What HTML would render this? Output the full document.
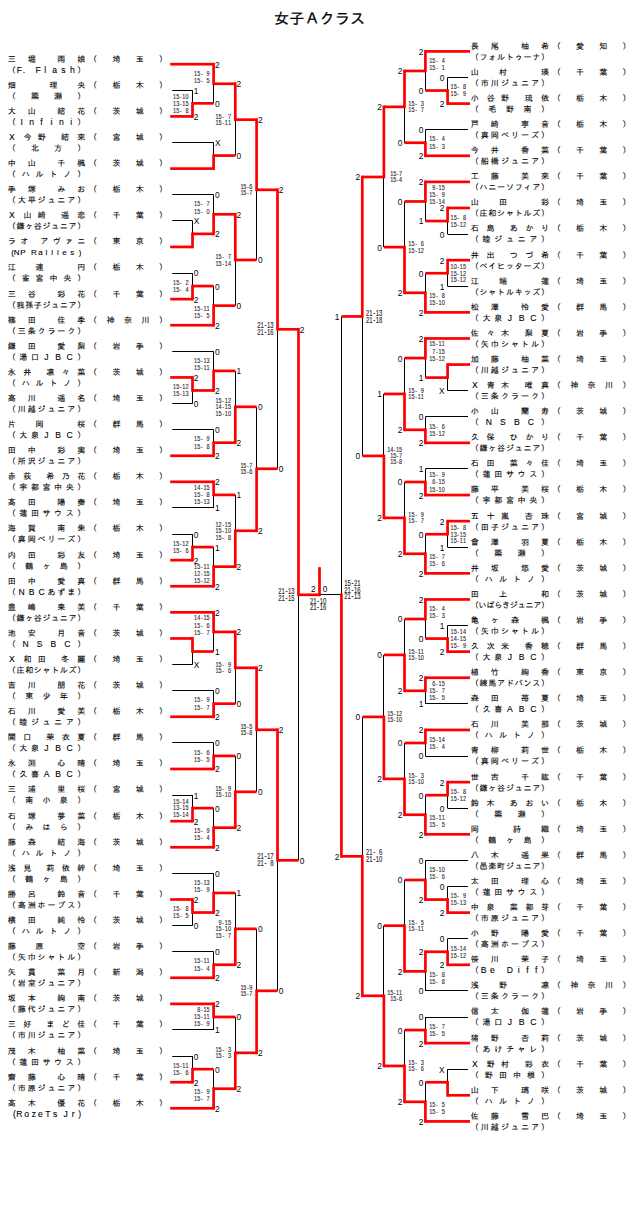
<!DOCTYPE html>
<html lang="ja"><head><meta charset="utf-8"><title>女子Ａクラス</title>
<style>
html,body{margin:0;padding:0;background:#fff}
body{width:640px;height:1205px;overflow:hidden;position:relative}
svg{position:absolute;left:0;top:0;display:block}
text{font-family:'Liberation Sans','IPAGothic',sans-serif;fill:#1a1a1a}
.n{font-size:8px;text-anchor:middle;fill:#000;stroke:#000;stroke-width:.1px}
.lb{font-size:8.4px;fill:#05050f;font-family:'Liberation Sans',sans-serif}
.e{text-anchor:end}
.sc{font-size:7.7px;text-anchor:middle;fill:#2a2428;stroke:#2a2428;stroke-width:.12px;font-family:'Liberation Sans',sans-serif}
.sb{font-size:8.3px}
.a{font-size:8.6px}
.ttl{font-size:15.2px;text-anchor:middle;fill:#000;stroke:#000;stroke-width:.25px}
.bk rect{fill:#000}
.rd rect{fill:#f00}
</style></head><body>
<svg width="640" height="1205" viewBox="0 0 640 1205">
<text class="ttl" x="319.6" y="24">女子Ａクラス</text>
<g class="bk" shape-rendering="auto">
<rect x="172.2" y="90" width="20.3" height="1"/>
<rect x="192" y="90.3" width="1" height="13.05"/>
<rect x="213" y="83.78" width="1" height="19.58"/>
<rect x="172.2" y="142" width="41.4" height="1"/>
<rect x="213" y="142.51" width="1" height="13.05"/>
<rect x="235" y="119.67" width="1" height="35.89"/>
<rect x="172.2" y="220" width="20.3" height="1"/>
<rect x="192" y="220.81" width="1" height="13.05"/>
<rect x="172.2" y="194" width="41.4" height="1"/>
<rect x="213" y="194.71" width="1" height="19.58"/>
<rect x="172.2" y="273" width="20.3" height="1"/>
<rect x="192" y="273.02" width="1" height="13.05"/>
<rect x="213" y="286.07" width="1" height="19.58"/>
<rect x="235" y="259.97" width="1" height="45.68"/>
<rect x="256" y="189.82" width="1" height="70.15"/>
<rect x="172.2" y="403" width="20.3" height="1"/>
<rect x="192" y="390.48" width="1" height="13.05"/>
<rect x="172.2" y="351" width="41.4" height="1"/>
<rect x="213" y="351.33" width="1" height="19.58"/>
<rect x="172.2" y="429" width="41.4" height="1"/>
<rect x="213" y="429.63" width="1" height="13.05"/>
<rect x="235" y="370.9" width="1" height="35.89"/>
<rect x="172.2" y="507" width="41.4" height="1"/>
<rect x="213" y="494.89" width="1" height="13.05"/>
<rect x="172.2" y="534" width="20.3" height="1"/>
<rect x="192" y="534.04" width="1" height="13.05"/>
<rect x="213" y="547.1" width="1" height="19.58"/>
<rect x="235" y="494.89" width="1" height="35.89"/>
<rect x="256" y="406.8" width="1" height="61.99"/>
<rect x="277" y="329.3" width="1" height="139.49"/>
<rect x="172.2" y="664" width="20.3" height="1"/>
<rect x="192" y="651.51" width="1" height="13.05"/>
<rect x="213" y="631.93" width="1" height="19.58"/>
<rect x="172.2" y="690" width="41.4" height="1"/>
<rect x="213" y="690.66" width="1" height="13.05"/>
<rect x="235" y="667.82" width="1" height="35.89"/>
<rect x="172.2" y="742" width="41.4" height="1"/>
<rect x="213" y="742.87" width="1" height="13.05"/>
<rect x="172.2" y="795" width="20.3" height="1"/>
<rect x="192" y="795.07" width="1" height="13.05"/>
<rect x="213" y="808.12" width="1" height="19.58"/>
<rect x="235" y="755.92" width="1" height="35.89"/>
<rect x="256" y="729.81" width="1" height="61.99"/>
<rect x="172.2" y="925" width="20.3" height="1"/>
<rect x="192" y="912.53" width="1" height="13.05"/>
<rect x="172.2" y="873" width="41.4" height="1"/>
<rect x="213" y="873.38" width="1" height="19.58"/>
<rect x="172.2" y="951" width="41.4" height="1"/>
<rect x="213" y="951.69" width="1" height="13.05"/>
<rect x="235" y="892.95" width="1" height="35.89"/>
<rect x="172.2" y="1029" width="41.4" height="1"/>
<rect x="213" y="1016.94" width="1" height="13.05"/>
<rect x="172.2" y="1056" width="20.3" height="1"/>
<rect x="192" y="1056.1" width="1" height="13.05"/>
<rect x="213" y="1069.15" width="1" height="19.58"/>
<rect x="235" y="1016.94" width="1" height="35.89"/>
<rect x="256" y="928.85" width="1" height="61.99"/>
<rect x="277" y="860.33" width="1" height="130.51"/>
<rect x="298" y="594.81" width="1" height="265.51"/>
<rect x="447.6" y="77" width="20.4" height="1"/>
<rect x="447" y="77.5" width="1" height="13.05"/>
<rect x="425" y="70.97" width="1" height="19.57"/>
<rect x="425.4" y="129" width="42.6" height="1"/>
<rect x="425" y="129.69" width="1" height="13.05"/>
<rect x="404" y="106.86" width="1" height="35.88"/>
<rect x="447.6" y="234" width="20.4" height="1"/>
<rect x="447" y="221.03" width="1" height="13.05"/>
<rect x="425" y="201.46" width="1" height="19.57"/>
<rect x="447.6" y="286" width="20.4" height="1"/>
<rect x="447" y="273.23" width="1" height="13.05"/>
<rect x="425" y="273.23" width="1" height="19.57"/>
<rect x="404" y="201.46" width="1" height="45.67"/>
<rect x="383" y="176.99" width="1" height="70.14"/>
<rect x="447.6" y="390" width="20.4" height="1"/>
<rect x="447" y="377.62" width="1" height="13.05"/>
<rect x="425" y="358.05" width="1" height="19.57"/>
<rect x="425.4" y="416" width="42.6" height="1"/>
<rect x="425" y="416.77" width="1" height="13.05"/>
<rect x="404" y="358.05" width="1" height="35.88"/>
<rect x="425.4" y="468" width="42.6" height="1"/>
<rect x="425" y="468.96" width="1" height="13.05"/>
<rect x="447.6" y="547" width="20.4" height="1"/>
<rect x="447" y="534.21" width="1" height="13.05"/>
<rect x="425" y="534.21" width="1" height="19.57"/>
<rect x="404" y="482.01" width="1" height="35.88"/>
<rect x="383" y="393.93" width="1" height="61.98"/>
<rect x="362" y="316.45" width="1" height="139.46"/>
<rect x="447.6" y="625" width="20.4" height="1"/>
<rect x="447" y="625.55" width="1" height="13.05"/>
<rect x="425" y="619.02" width="1" height="19.57"/>
<rect x="425.4" y="703" width="42.6" height="1"/>
<rect x="425" y="690.79" width="1" height="13.05"/>
<rect x="404" y="619.02" width="1" height="35.88"/>
<rect x="425.4" y="756" width="42.6" height="1"/>
<rect x="425" y="742.99" width="1" height="13.05"/>
<rect x="447.6" y="808" width="20.4" height="1"/>
<rect x="447" y="795.18" width="1" height="13.05"/>
<rect x="425" y="795.18" width="1" height="19.57"/>
<rect x="404" y="742.99" width="1" height="35.88"/>
<rect x="383" y="654.91" width="1" height="61.98"/>
<rect x="447.6" y="886" width="20.4" height="1"/>
<rect x="447" y="886.52" width="1" height="13.05"/>
<rect x="425.4" y="860" width="42.6" height="1"/>
<rect x="425" y="860.43" width="1" height="19.57"/>
<rect x="447.6" y="938" width="20.4" height="1"/>
<rect x="447" y="938.72" width="1" height="13.05"/>
<rect x="425.4" y="990" width="42.6" height="1"/>
<rect x="425" y="971.34" width="1" height="19.57"/>
<rect x="404" y="880" width="1" height="45.67"/>
<rect x="425.4" y="1017" width="42.6" height="1"/>
<rect x="425" y="1017.01" width="1" height="13.05"/>
<rect x="447.6" y="1069" width="20.4" height="1"/>
<rect x="447" y="1069.21" width="1" height="13.05"/>
<rect x="425" y="1082.26" width="1" height="19.57"/>
<rect x="404" y="1030.06" width="1" height="35.88"/>
<rect x="383" y="925.67" width="1" height="70.14"/>
<rect x="362" y="716.89" width="1" height="139.46"/>
<rect x="341" y="316.45" width="1" height="278.36"/>
<rect x="319.5" y="594" width="21.9" height="1"/>
</g>
<g class="rd">
<rect x="170.2" y="115.06" width="22.3" height="2.7"/>
<rect x="191.15" y="102" width="2.7" height="15.75"/>
<rect x="170.2" y="62.85" width="43.4" height="2.7"/>
<rect x="192.5" y="102" width="21.1" height="2.7"/>
<rect x="212.25" y="62.85" width="2.7" height="22.28"/>
<rect x="170.2" y="167.26" width="43.4" height="2.7"/>
<rect x="212.25" y="154.21" width="2.7" height="15.75"/>
<rect x="213.6" y="82.43" width="21.7" height="2.7"/>
<rect x="213.6" y="154.21" width="21.7" height="2.7"/>
<rect x="233.95" y="82.43" width="2.7" height="38.59"/>
<rect x="170.2" y="245.57" width="22.3" height="2.7"/>
<rect x="191.15" y="232.52" width="2.7" height="15.75"/>
<rect x="192.5" y="232.52" width="21.1" height="2.7"/>
<rect x="212.25" y="212.94" width="2.7" height="22.28"/>
<rect x="170.2" y="297.77" width="22.3" height="2.7"/>
<rect x="191.15" y="284.72" width="2.7" height="15.75"/>
<rect x="192.5" y="284.72" width="21.1" height="2.7"/>
<rect x="170.2" y="323.87" width="43.4" height="2.7"/>
<rect x="212.25" y="304.3" width="2.7" height="22.28"/>
<rect x="213.6" y="212.94" width="21.7" height="2.7"/>
<rect x="213.6" y="304.3" width="21.7" height="2.7"/>
<rect x="233.95" y="212.94" width="2.7" height="48.38"/>
<rect x="235.3" y="118.32" width="21.3" height="2.7"/>
<rect x="235.3" y="258.62" width="21.3" height="2.7"/>
<rect x="255.25" y="118.32" width="2.7" height="72.85"/>
<rect x="170.2" y="376.08" width="22.3" height="2.7"/>
<rect x="191.15" y="376.08" width="2.7" height="15.75"/>
<rect x="192.5" y="389.13" width="21.1" height="2.7"/>
<rect x="212.25" y="369.55" width="2.7" height="22.28"/>
<rect x="170.2" y="454.39" width="43.4" height="2.7"/>
<rect x="212.25" y="441.34" width="2.7" height="15.75"/>
<rect x="213.6" y="369.55" width="21.7" height="2.7"/>
<rect x="213.6" y="441.34" width="21.7" height="2.7"/>
<rect x="233.95" y="405.45" width="2.7" height="38.59"/>
<rect x="170.2" y="480.49" width="43.4" height="2.7"/>
<rect x="212.25" y="480.49" width="2.7" height="15.75"/>
<rect x="170.2" y="558.8" width="22.3" height="2.7"/>
<rect x="191.15" y="545.75" width="2.7" height="15.75"/>
<rect x="192.5" y="545.75" width="21.1" height="2.7"/>
<rect x="170.2" y="584.9" width="43.4" height="2.7"/>
<rect x="212.25" y="565.32" width="2.7" height="22.28"/>
<rect x="213.6" y="493.54" width="21.7" height="2.7"/>
<rect x="213.6" y="565.32" width="21.7" height="2.7"/>
<rect x="233.95" y="529.43" width="2.7" height="38.59"/>
<rect x="235.3" y="405.45" width="21.3" height="2.7"/>
<rect x="235.3" y="529.43" width="21.3" height="2.7"/>
<rect x="255.25" y="467.44" width="2.7" height="64.69"/>
<rect x="256.6" y="188.47" width="20.9" height="2.7"/>
<rect x="256.6" y="467.44" width="20.9" height="2.7"/>
<rect x="276.15" y="188.47" width="2.7" height="142.19"/>
<rect x="170.2" y="637.11" width="22.3" height="2.7"/>
<rect x="191.15" y="637.11" width="2.7" height="15.75"/>
<rect x="170.2" y="611" width="43.4" height="2.7"/>
<rect x="192.5" y="650.16" width="21.1" height="2.7"/>
<rect x="212.25" y="611" width="2.7" height="22.28"/>
<rect x="170.2" y="715.41" width="43.4" height="2.7"/>
<rect x="212.25" y="702.36" width="2.7" height="15.75"/>
<rect x="213.6" y="630.58" width="21.7" height="2.7"/>
<rect x="213.6" y="702.36" width="21.7" height="2.7"/>
<rect x="233.95" y="630.58" width="2.7" height="38.59"/>
<rect x="170.2" y="767.62" width="43.4" height="2.7"/>
<rect x="212.25" y="754.57" width="2.7" height="15.75"/>
<rect x="170.2" y="819.82" width="22.3" height="2.7"/>
<rect x="191.15" y="806.77" width="2.7" height="15.75"/>
<rect x="192.5" y="806.77" width="21.1" height="2.7"/>
<rect x="170.2" y="845.92" width="43.4" height="2.7"/>
<rect x="212.25" y="826.35" width="2.7" height="22.28"/>
<rect x="213.6" y="754.57" width="21.7" height="2.7"/>
<rect x="213.6" y="826.35" width="21.7" height="2.7"/>
<rect x="233.95" y="790.46" width="2.7" height="38.59"/>
<rect x="235.3" y="666.47" width="21.3" height="2.7"/>
<rect x="235.3" y="790.46" width="21.3" height="2.7"/>
<rect x="255.25" y="666.47" width="2.7" height="64.69"/>
<rect x="170.2" y="898.13" width="22.3" height="2.7"/>
<rect x="191.15" y="898.13" width="2.7" height="15.75"/>
<rect x="192.5" y="911.18" width="21.1" height="2.7"/>
<rect x="212.25" y="891.6" width="2.7" height="22.28"/>
<rect x="170.2" y="976.44" width="43.4" height="2.7"/>
<rect x="212.25" y="963.39" width="2.7" height="15.75"/>
<rect x="213.6" y="891.6" width="21.7" height="2.7"/>
<rect x="213.6" y="963.39" width="21.7" height="2.7"/>
<rect x="233.95" y="927.5" width="2.7" height="38.59"/>
<rect x="170.2" y="1002.54" width="43.4" height="2.7"/>
<rect x="212.25" y="1002.54" width="2.7" height="15.75"/>
<rect x="170.2" y="1080.85" width="22.3" height="2.7"/>
<rect x="191.15" y="1067.8" width="2.7" height="15.75"/>
<rect x="192.5" y="1067.8" width="21.1" height="2.7"/>
<rect x="170.2" y="1106.95" width="43.4" height="2.7"/>
<rect x="212.25" y="1087.37" width="2.7" height="22.28"/>
<rect x="213.6" y="1015.59" width="21.7" height="2.7"/>
<rect x="213.6" y="1087.37" width="21.7" height="2.7"/>
<rect x="233.95" y="1051.48" width="2.7" height="38.59"/>
<rect x="235.3" y="927.5" width="21.3" height="2.7"/>
<rect x="235.3" y="1051.48" width="21.3" height="2.7"/>
<rect x="255.25" y="989.49" width="2.7" height="64.69"/>
<rect x="256.6" y="728.46" width="20.9" height="2.7"/>
<rect x="256.6" y="989.49" width="20.9" height="2.7"/>
<rect x="276.15" y="728.46" width="2.7" height="133.21"/>
<rect x="277.5" y="327.95" width="21" height="2.7"/>
<rect x="277.5" y="858.98" width="21" height="2.7"/>
<rect x="297.15" y="327.95" width="2.7" height="268.21"/>
<rect x="447.6" y="102.25" width="22.4" height="2.7"/>
<rect x="446.25" y="89.2" width="2.7" height="15.75"/>
<rect x="425.4" y="50.05" width="44.6" height="2.7"/>
<rect x="425.4" y="89.2" width="22.2" height="2.7"/>
<rect x="424.05" y="50.05" width="2.7" height="22.27"/>
<rect x="425.4" y="154.44" width="44.6" height="2.7"/>
<rect x="424.05" y="141.39" width="2.7" height="15.75"/>
<rect x="404.5" y="69.62" width="20.9" height="2.7"/>
<rect x="404.5" y="141.39" width="20.9" height="2.7"/>
<rect x="403.15" y="69.62" width="2.7" height="38.58"/>
<rect x="447.6" y="206.64" width="22.4" height="2.7"/>
<rect x="446.25" y="206.64" width="2.7" height="15.75"/>
<rect x="425.4" y="180.54" width="44.6" height="2.7"/>
<rect x="425.4" y="219.68" width="22.2" height="2.7"/>
<rect x="424.05" y="180.54" width="2.7" height="22.27"/>
<rect x="447.6" y="258.83" width="22.4" height="2.7"/>
<rect x="446.25" y="258.83" width="2.7" height="15.75"/>
<rect x="425.4" y="271.88" width="22.2" height="2.7"/>
<rect x="425.4" y="311.03" width="44.6" height="2.7"/>
<rect x="424.05" y="291.45" width="2.7" height="22.27"/>
<rect x="404.5" y="200.11" width="20.9" height="2.7"/>
<rect x="404.5" y="291.45" width="20.9" height="2.7"/>
<rect x="403.15" y="245.78" width="2.7" height="48.37"/>
<rect x="383.9" y="105.51" width="20.6" height="2.7"/>
<rect x="383.9" y="245.78" width="20.6" height="2.7"/>
<rect x="382.55" y="105.51" width="2.7" height="72.84"/>
<rect x="447.6" y="363.22" width="22.4" height="2.7"/>
<rect x="446.25" y="363.22" width="2.7" height="15.75"/>
<rect x="425.4" y="337.12" width="44.6" height="2.7"/>
<rect x="425.4" y="376.27" width="22.2" height="2.7"/>
<rect x="424.05" y="337.12" width="2.7" height="22.27"/>
<rect x="425.4" y="441.51" width="44.6" height="2.7"/>
<rect x="424.05" y="428.47" width="2.7" height="15.75"/>
<rect x="404.5" y="356.7" width="20.9" height="2.7"/>
<rect x="404.5" y="428.47" width="20.9" height="2.7"/>
<rect x="403.15" y="392.58" width="2.7" height="38.58"/>
<rect x="425.4" y="493.71" width="44.6" height="2.7"/>
<rect x="424.05" y="480.66" width="2.7" height="15.75"/>
<rect x="447.6" y="519.81" width="22.4" height="2.7"/>
<rect x="446.25" y="519.81" width="2.7" height="15.75"/>
<rect x="425.4" y="532.86" width="22.2" height="2.7"/>
<rect x="425.4" y="572" width="44.6" height="2.7"/>
<rect x="424.05" y="552.43" width="2.7" height="22.27"/>
<rect x="404.5" y="480.66" width="20.9" height="2.7"/>
<rect x="404.5" y="552.43" width="20.9" height="2.7"/>
<rect x="403.15" y="516.54" width="2.7" height="38.58"/>
<rect x="383.9" y="392.58" width="20.6" height="2.7"/>
<rect x="383.9" y="516.54" width="20.6" height="2.7"/>
<rect x="382.55" y="454.56" width="2.7" height="64.68"/>
<rect x="362.3" y="175.64" width="21.6" height="2.7"/>
<rect x="362.3" y="454.56" width="21.6" height="2.7"/>
<rect x="360.95" y="175.64" width="2.7" height="142.16"/>
<rect x="447.6" y="650.29" width="22.4" height="2.7"/>
<rect x="446.25" y="637.25" width="2.7" height="15.75"/>
<rect x="425.4" y="598.1" width="44.6" height="2.7"/>
<rect x="425.4" y="637.25" width="22.2" height="2.7"/>
<rect x="424.05" y="598.1" width="2.7" height="22.27"/>
<rect x="425.4" y="676.39" width="44.6" height="2.7"/>
<rect x="424.05" y="676.39" width="2.7" height="15.75"/>
<rect x="404.5" y="617.67" width="20.9" height="2.7"/>
<rect x="404.5" y="689.44" width="20.9" height="2.7"/>
<rect x="403.15" y="653.56" width="2.7" height="38.58"/>
<rect x="425.4" y="728.59" width="44.6" height="2.7"/>
<rect x="424.05" y="728.59" width="2.7" height="15.75"/>
<rect x="447.6" y="780.78" width="22.4" height="2.7"/>
<rect x="446.25" y="780.78" width="2.7" height="15.75"/>
<rect x="425.4" y="793.83" width="22.2" height="2.7"/>
<rect x="425.4" y="832.98" width="44.6" height="2.7"/>
<rect x="424.05" y="813.4" width="2.7" height="22.27"/>
<rect x="404.5" y="741.64" width="20.9" height="2.7"/>
<rect x="404.5" y="813.4" width="20.9" height="2.7"/>
<rect x="403.15" y="777.52" width="2.7" height="38.58"/>
<rect x="383.9" y="653.56" width="20.6" height="2.7"/>
<rect x="383.9" y="777.52" width="20.6" height="2.7"/>
<rect x="382.55" y="715.54" width="2.7" height="64.68"/>
<rect x="447.6" y="911.27" width="22.4" height="2.7"/>
<rect x="446.25" y="898.22" width="2.7" height="15.75"/>
<rect x="425.4" y="898.22" width="22.2" height="2.7"/>
<rect x="424.05" y="878.65" width="2.7" height="22.27"/>
<rect x="447.6" y="963.47" width="22.4" height="2.7"/>
<rect x="446.25" y="950.42" width="2.7" height="15.75"/>
<rect x="425.4" y="950.42" width="22.2" height="2.7"/>
<rect x="424.05" y="950.42" width="2.7" height="22.27"/>
<rect x="404.5" y="878.65" width="20.9" height="2.7"/>
<rect x="404.5" y="969.99" width="20.9" height="2.7"/>
<rect x="403.15" y="924.32" width="2.7" height="48.37"/>
<rect x="425.4" y="1041.76" width="44.6" height="2.7"/>
<rect x="424.05" y="1028.71" width="2.7" height="15.75"/>
<rect x="447.6" y="1093.95" width="22.4" height="2.7"/>
<rect x="446.25" y="1080.91" width="2.7" height="15.75"/>
<rect x="425.4" y="1080.91" width="22.2" height="2.7"/>
<rect x="425.4" y="1120.05" width="44.6" height="2.7"/>
<rect x="424.05" y="1100.48" width="2.7" height="22.27"/>
<rect x="404.5" y="1028.71" width="20.9" height="2.7"/>
<rect x="404.5" y="1100.48" width="20.9" height="2.7"/>
<rect x="403.15" y="1064.59" width="2.7" height="38.58"/>
<rect x="383.9" y="924.32" width="20.6" height="2.7"/>
<rect x="383.9" y="1064.59" width="20.6" height="2.7"/>
<rect x="382.55" y="994.46" width="2.7" height="72.84"/>
<rect x="362.3" y="715.54" width="21.6" height="2.7"/>
<rect x="362.3" y="994.46" width="21.6" height="2.7"/>
<rect x="360.95" y="855" width="2.7" height="142.16"/>
<rect x="341.4" y="315.1" width="20.9" height="2.7"/>
<rect x="341.4" y="855" width="20.9" height="2.7"/>
<rect x="340.05" y="593.46" width="2.7" height="264.23"/>
<rect x="298.5" y="593.46" width="21" height="2.7"/>
<rect x="318.15" y="567.16" width="2.7" height="29"/>
</g>
<g>
<text class="n" x="11.8 31.63 61.37 81.2" y="61.6">三堀雨娘</text>
<text class="n" x="93.1 116.4 139.7 163" y="61.6">（埼玉）</text>
<text class="n" xml:space="preserve" x="11.8 19.3 24 30.8 38 45.3 54.7 63.5 72.3 81.2" y="72.6">（<tspan class="a">F. Flash</tspan>）</text>
<text class="n" x="11.8 53.44 81.2" y="87.7">畑理央</text>
<text class="n" x="93.1 116.4 139.7 163" y="87.7">（栃木）</text>
<text class="n" x="11.8 34.93 58.07 81.2" y="98.7">（簗瀬）</text>
<text class="n" x="11.8 31.63 61.37 81.2" y="113.81">大山結花</text>
<text class="n" x="93.1 116.4 139.7 163" y="113.81">（茨城）</text>
<text class="n" x="11.8 21.71 31.63 41.54 51.46 61.37 71.29 81.2" y="124.81">（<tspan class="a">Infini</tspan>）</text>
<text class="n" x="11.8 27.55 41.64 65.03 81.2" y="139.91"><tspan class="a">X</tspan>今野結來</text>
<text class="n" x="93.1 116.4 139.7 163" y="139.91">（宮城）</text>
<text class="n" x="11.8 34.93 58.07 81.2" y="150.91">（北方）</text>
<text class="n" x="11.8 31.63 61.37 81.2" y="166.01">中山千楓</text>
<text class="n" x="93.1 116.4 139.7 163" y="166.01">（茨城）</text>
<text class="n" x="11.8 25.68 39.56 53.44 67.32 81.2" y="177.01">（ハルトノ）</text>
<text class="n" x="11.8 31.63 61.37 81.2" y="192.11">手塚みお</text>
<text class="n" x="93.1 116.4 139.7 163" y="192.11">（栃木）</text>
<text class="n" x="11.8 21.71 31.63 41.54 51.46 61.37 71.29 81.2" y="203.11">（大平ジュニア）</text>
<text class="n" x="11.8 27.55 41.64 65.03 81.2" y="218.22"><tspan class="a">X</tspan>山崎遥恋</text>
<text class="n" x="93.1 116.4 139.7 163" y="218.22">（千葉）</text>
<text class="n" x="11.8 20.48 29.15 37.83 46.5 55.17 63.85 72.53 81.2" y="229.22">（鎌ヶ谷ジュニア）</text>
<text class="n" x="11.8 24.15 44.14 56.63 69.12 81.2" y="244.32">ラオアヴァニ</text>
<text class="n" x="93.1 116.4 139.7 163" y="244.32">（東京）</text>
<text class="n" xml:space="preserve" x="12.7 16.6 22.9 28.4 33.9 40.5 46.5 52.2 57.8 64.5 72.3 80" y="255.32">(NP Rallies)</text>
<text class="n" x="11.8 39.56 81.2" y="270.42">江連円</text>
<text class="n" x="93.1 116.4 139.7 163" y="270.42">（栃木）</text>
<text class="n" x="11.8 25.68 39.56 53.44 67.32 81.2" y="281.42">（雀宮中央）</text>
<text class="n" x="11.8 31.63 61.37 81.2" y="296.52">三谷彩花</text>
<text class="n" x="93.1 116.4 139.7 163" y="296.52">（千葉）</text>
<text class="n" x="11.8 20.48 29.15 37.83 46.5 55.17 63.85 72.53 81.2" y="307.52">（我孫子ジュニア）</text>
<text class="n" x="11.8 31.63 61.37 81.2" y="322.62">篠田佳季</text>
<text class="n" x="93.1 110.57 128.05 145.53 163" y="322.62">（神奈川）</text>
<text class="n" x="11.8 21.71 31.63 41.54 51.46 61.37 71.29 81.2" y="333.62">（三条クラーク）</text>
<text class="n" x="11.8 31.63 61.37 81.2" y="348.73">鎌田愛梨</text>
<text class="n" x="93.1 116.4 139.7 163" y="348.73">（岩手）</text>
<text class="n" x="11.8 23.37 34.93 46.5 58.07 69.63 81.2" y="359.73">（湯口<tspan class="a">JBC</tspan>）</text>
<text class="n" x="11.8 27.22 50.36 65.78 81.2" y="374.83">永井凛々菜</text>
<text class="n" x="93.1 116.4 139.7 163" y="374.83">（茨城）</text>
<text class="n" x="11.8 25.68 39.56 53.44 67.32 81.2" y="385.83">（ハルトノ）</text>
<text class="n" x="11.8 31.63 61.37 81.2" y="400.93">高川遥名</text>
<text class="n" x="93.1 116.4 139.7 163" y="400.93">（埼玉）</text>
<text class="n" x="11.8 21.71 31.63 41.54 51.46 61.37 71.29 81.2" y="411.93">（川越ジュニア）</text>
<text class="n" x="11.8 39.56 81.2" y="427.03">片岡桜</text>
<text class="n" x="93.1 116.4 139.7 163" y="427.03">（群馬）</text>
<text class="n" x="11.8 23.37 34.93 46.5 58.07 69.63 81.2" y="438.03">（大泉<tspan class="a">JBC</tspan>）</text>
<text class="n" x="11.8 31.63 61.37 81.2" y="453.14">田中彩実</text>
<text class="n" x="93.1 116.4 139.7 163" y="453.14">（埼玉）</text>
<text class="n" x="11.8 21.71 31.63 41.54 51.46 61.37 71.29 81.2" y="464.14">（所沢ジュニア）</text>
<text class="n" x="11.8 27.22 50.36 65.78 81.2" y="479.24">赤荻希乃花</text>
<text class="n" x="93.1 116.4 139.7 163" y="479.24">（栃木）</text>
<text class="n" x="11.8 23.37 34.93 46.5 58.07 69.63 81.2" y="490.24">（宇都宮中央）</text>
<text class="n" x="11.8 31.63 61.37 81.2" y="505.34">髙田陽奏</text>
<text class="n" x="93.1 116.4 139.7 163" y="505.34">（埼玉）</text>
<text class="n" x="11.8 23.37 34.93 46.5 58.07 69.63 81.2" y="516.34">（蓮田サウス）</text>
<text class="n" x="11.8 31.63 61.37 81.2" y="531.44">海賀南朱</text>
<text class="n" x="93.1 116.4 139.7 163" y="531.44">（栃木）</text>
<text class="n" x="11.8 21.71 31.63 41.54 51.46 61.37 71.29 81.2" y="542.44">（真岡ベリーズ）</text>
<text class="n" x="11.8 31.63 61.37 81.2" y="557.55">内田彩友</text>
<text class="n" x="93.1 116.4 139.7 163" y="557.55">（埼玉）</text>
<text class="n" x="11.8 29.15 46.5 63.85 81.2" y="568.55">（鶴ヶ島）</text>
<text class="n" x="11.8 31.63 61.37 81.2" y="583.65">田中愛真</text>
<text class="n" x="93.1 116.4 139.7 163" y="583.65">（群馬）</text>
<text class="n" x="11.8 21.71 31.63 41.54 51.46 61.37 71.29 81.2" y="594.65">（<tspan class="a">NBC</tspan>あずま）</text>
<text class="n" x="11.8 31.63 61.37 81.2" y="609.75">豊嶋来美</text>
<text class="n" x="93.1 116.4 139.7 163" y="609.75">（千葉）</text>
<text class="n" x="11.8 20.48 29.15 37.83 46.5 55.17 63.85 72.53 81.2" y="620.75">（鎌ヶ谷ジュニア）</text>
<text class="n" x="11.8 31.63 61.37 81.2" y="635.86">池安月音</text>
<text class="n" x="93.1 116.4 139.7 163" y="635.86">（茨城）</text>
<text class="n" x="11.8 25.68 39.56 53.44 67.32 81.2" y="646.86">（<tspan class="a">NSBC</tspan>）</text>
<text class="n" x="11.8 27.55 41.64 65.03 81.2" y="661.96"><tspan class="a">X</tspan>和田冬麗</text>
<text class="n" x="93.1 116.4 139.7 163" y="661.96">（埼玉）</text>
<text class="n" x="11.8 20.48 29.15 37.83 46.5 55.17 63.85 72.53 81.2" y="672.96">（庄和シャトルズ）</text>
<text class="n" x="11.8 31.63 61.37 81.2" y="688.06">吉川朋花</text>
<text class="n" x="93.1 116.4 139.7 163" y="688.06">（茨城）</text>
<text class="n" x="11.8 29.15 46.5 63.85 81.2" y="699.06">（東少年）</text>
<text class="n" x="11.8 31.63 61.37 81.2" y="714.16">石川愛美</text>
<text class="n" x="93.1 116.4 139.7 163" y="714.16">（栃木）</text>
<text class="n" x="11.8 23.37 34.93 46.5 58.07 69.63 81.2" y="725.16">（睦ジュニア）</text>
<text class="n" x="11.8 27.22 50.36 65.78 81.2" y="740.26">関口茉衣夏</text>
<text class="n" x="93.1 116.4 139.7 163" y="740.26">（群馬）</text>
<text class="n" x="11.8 23.37 34.93 46.5 58.07 69.63 81.2" y="751.26">（大泉<tspan class="a">JBC</tspan>）</text>
<text class="n" x="11.8 31.63 61.37 81.2" y="766.37">永渕心晴</text>
<text class="n" x="93.1 116.4 139.7 163" y="766.37">（埼玉）</text>
<text class="n" x="11.8 23.37 34.93 46.5 58.07 69.63 81.2" y="777.37">（久喜<tspan class="a">ABC</tspan>）</text>
<text class="n" x="11.8 31.63 61.37 81.2" y="792.47">三浦里桜</text>
<text class="n" x="93.1 116.4 139.7 163" y="792.47">（宮城）</text>
<text class="n" x="11.8 29.15 46.5 63.85 81.2" y="803.47">（南小泉）</text>
<text class="n" x="11.8 31.63 61.37 81.2" y="818.57">石塚夢菜</text>
<text class="n" x="93.1 116.4 139.7 163" y="818.57">（栃木）</text>
<text class="n" x="11.8 29.15 46.5 63.85 81.2" y="829.57">（みはら）</text>
<text class="n" x="11.8 31.63 61.37 81.2" y="844.67">藤森結海</text>
<text class="n" x="93.1 116.4 139.7 163" y="844.67">（茨城）</text>
<text class="n" x="11.8 25.68 39.56 53.44 67.32 81.2" y="855.67">（ハルトノ）</text>
<text class="n" x="11.8 27.22 50.36 65.78 81.2" y="870.78">浅見莉依絆</text>
<text class="n" x="93.1 116.4 139.7 163" y="870.78">（埼玉）</text>
<text class="n" x="11.8 29.15 46.5 63.85 81.2" y="881.78">（鶴ヶ島）</text>
<text class="n" x="11.8 31.63 61.37 81.2" y="896.88">勝呂鈴音</text>
<text class="n" x="93.1 116.4 139.7 163" y="896.88">（千葉）</text>
<text class="n" x="11.8 21.71 31.63 41.54 51.46 61.37 71.29 81.2" y="907.88">（高洲ホープス）</text>
<text class="n" x="11.8 31.63 61.37 81.2" y="922.98">横田純怜</text>
<text class="n" x="93.1 116.4 139.7 163" y="922.98">（茨城）</text>
<text class="n" x="11.8 25.68 39.56 53.44 67.32 81.2" y="933.98">（ハルトノ）</text>
<text class="n" x="11.8 39.56 81.2" y="949.09">藤原空</text>
<text class="n" x="93.1 116.4 139.7 163" y="949.09">（岩手）</text>
<text class="n" x="11.8 21.71 31.63 41.54 51.46 61.37 71.29 81.2" y="960.09">（矢巾シャトル）</text>
<text class="n" x="11.8 31.63 61.37 81.2" y="975.19">矢貫菜月</text>
<text class="n" x="93.1 116.4 139.7 163" y="975.19">（新潟）</text>
<text class="n" x="11.8 21.71 31.63 41.54 51.46 61.37 71.29 81.2" y="986.19">（岩室ジュニア）</text>
<text class="n" x="11.8 31.63 61.37 81.2" y="1001.29">坂本絢南</text>
<text class="n" x="93.1 116.4 139.7 163" y="1001.29">（茨城）</text>
<text class="n" x="11.8 21.71 31.63 41.54 51.46 61.37 71.29 81.2" y="1012.29">（藤代ジュニア）</text>
<text class="n" x="11.8 27.22 50.36 65.78 81.2" y="1027.39">三好まど佳</text>
<text class="n" x="93.1 116.4 139.7 163" y="1027.39">（千葉）</text>
<text class="n" x="11.8 21.71 31.63 41.54 51.46 61.37 71.29 81.2" y="1038.39">（市川ジュニア）</text>
<text class="n" x="11.8 31.63 61.37 81.2" y="1053.5">茂木柚菜</text>
<text class="n" x="93.1 116.4 139.7 163" y="1053.5">（埼玉）</text>
<text class="n" x="11.8 23.37 34.93 46.5 58.07 69.63 81.2" y="1064.5">（蓮田サウス）</text>
<text class="n" x="11.8 31.63 61.37 81.2" y="1079.6">齋藤心晴</text>
<text class="n" x="93.1 116.4 139.7 163" y="1079.6">（千葉）</text>
<text class="n" x="11.8 21.71 31.63 41.54 51.46 61.37 71.29 81.2" y="1090.6">（市原ジュニア）</text>
<text class="n" x="11.8 31.63 61.37 81.2" y="1105.7">髙木優花</text>
<text class="n" x="93.1 116.4 139.7 163" y="1105.7">（栃木）</text>
<text class="n" xml:space="preserve" x="14.4 19.3 26.7 33.8 40.4 47.8 55.2 60.4 65.7 73.1 79.8" y="1116.7"><tspan class="a">(RozeTs Jr)</tspan></text>
<text class="n" x="474.8 494.86 524.94 545" y="48.8">長尾柚希</text>
<text class="n" x="556.8 580 603.2 626.4" y="48.8">（愛知）</text>
<text class="n" x="474.8 483.57 492.35 501.12 509.9 518.67 527.45 536.23 545" y="59.8">（フォルトゥーナ）</text>
<text class="n" x="474.8 502.88 545" y="74.9">山村瑛</text>
<text class="n" x="556.8 580 603.2 626.4" y="74.9">（千葉）</text>
<text class="n" x="474.8 484.83 494.86 504.89 514.91 524.94 534.97 545" y="85.9">（市川ジュニア）</text>
<text class="n" x="474.8 490.74 504.99 528.64 545" y="101">小谷野琉依</text>
<text class="n" x="556.8 580 603.2 626.4" y="101">（栃木）</text>
<text class="n" x="474.8 492.35 509.9 527.45 545" y="112">（毛野南）</text>
<text class="n" x="474.8 494.86 524.94 545" y="127.09">戸崎寧音</text>
<text class="n" x="556.8 580 603.2 626.4" y="127.09">（栃木）</text>
<text class="n" x="474.8 484.83 494.86 504.89 514.91 524.94 534.97 545" y="138.09">（真岡ベリーズ）</text>
<text class="n" x="474.8 494.86 524.94 545" y="153.19">今井香菜</text>
<text class="n" x="556.8 580 603.2 626.4" y="153.19">（千葉）</text>
<text class="n" x="474.8 484.83 494.86 504.89 514.91 524.94 534.97 545" y="164.19">（船橋ジュニア）</text>
<text class="n" x="474.8 494.86 524.94 545" y="179.29">工藤美來</text>
<text class="n" x="556.8 580 603.2 626.4" y="179.29">（千葉）</text>
<text class="n" x="474.8 483.57 492.35 501.12 509.9 518.67 527.45 536.23 545" y="190.29">（ハニーソフィア）</text>
<text class="n" x="474.8 502.88 545" y="205.39">山田彩</text>
<text class="n" x="556.8 580 603.2 626.4" y="205.39">（埼玉）</text>
<text class="n" x="474.8 483.57 492.35 501.12 509.9 518.67 527.45 536.23 545" y="216.39">（庄和シャトルズ）</text>
<text class="n" x="474.8 490.4 513.8 529.4 545" y="231.48">石島あかり</text>
<text class="n" x="556.8 580 603.2 626.4" y="231.48">（栃木）</text>
<text class="n" x="474.8 486.5 498.2 509.9 521.6 533.3 545" y="242.48">（睦ジュニア）</text>
<text class="n" x="474.8 490.4 513.8 529.4 545" y="257.58">井出つづ希</text>
<text class="n" x="556.8 580 603.2 626.4" y="257.58">（千葉）</text>
<text class="n" x="474.8 483.57 492.35 501.12 509.9 518.67 527.45 536.23 545" y="268.58">（ベイヒッターズ）</text>
<text class="n" x="474.8 502.88 545" y="283.68">江端蓮</text>
<text class="n" x="556.8 580 603.2 626.4" y="283.68">（埼玉）</text>
<text class="n" x="474.8 483.57 492.35 501.12 509.9 518.67 527.45 536.23 545" y="294.68">（シャトルキッズ）</text>
<text class="n" x="474.8 494.86 524.94 545" y="309.78">松澤怜愛</text>
<text class="n" x="556.8 580 603.2 626.4" y="309.78">（群馬）</text>
<text class="n" x="474.8 486.5 498.2 509.9 521.6 533.3 545" y="320.78">（大泉<tspan class="a">JBC</tspan>）</text>
<text class="n" x="474.8 490.74 504.99 528.64 545" y="335.87">佐々木梨夏</text>
<text class="n" x="556.8 580 603.2 626.4" y="335.87">（岩手）</text>
<text class="n" x="474.8 484.83 494.86 504.89 514.91 524.94 534.97 545" y="346.87">（矢巾シャトル）</text>
<text class="n" x="474.8 494.86 524.94 545" y="361.97">加藤柚菜</text>
<text class="n" x="556.8 580 603.2 626.4" y="361.97">（埼玉）</text>
<text class="n" x="474.8 484.83 494.86 504.89 514.91 524.94 534.97 545" y="372.97">（川越ジュニア）</text>
<text class="n" x="474.8 490.74 504.99 528.64 545" y="388.07"><tspan class="a">X</tspan>青木唯真</text>
<text class="n" x="556.8 574.2 591.6 609 626.4" y="388.07">（神奈川）</text>
<text class="n" x="474.8 484.83 494.86 504.89 514.91 524.94 534.97 545" y="399.07">（三条クラーク）</text>
<text class="n" x="474.8 494.86 524.94 545" y="414.17">小山蘭寿</text>
<text class="n" x="556.8 580 603.2 626.4" y="414.17">（茨城）</text>
<text class="n" x="474.8 488.84 502.88 516.92 530.96 545" y="425.17">（<tspan class="a">NSBC</tspan>）</text>
<text class="n" x="474.8 490.4 513.8 529.4 545" y="440.26">久保ひかり</text>
<text class="n" x="556.8 580 603.2 626.4" y="440.26">（千葉）</text>
<text class="n" x="474.8 483.57 492.35 501.12 509.9 518.67 527.45 536.23 545" y="451.26">（鎌ヶ谷ジュニア）</text>
<text class="n" x="474.8 490.4 513.8 529.4 545" y="466.36">石田菜々佳</text>
<text class="n" x="556.8 580 603.2 626.4" y="466.36">（埼玉）</text>
<text class="n" x="474.8 486.5 498.2 509.9 521.6 533.3 545" y="477.36">（蓮田サウス）</text>
<text class="n" x="474.8 494.86 524.94 545" y="492.46">藤平美桜</text>
<text class="n" x="556.8 580 603.2 626.4" y="492.46">（栃木）</text>
<text class="n" x="474.8 486.5 498.2 509.9 521.6 533.3 545" y="503.46">（宇都宮中央）</text>
<text class="n" x="474.8 490.74 504.99 528.64 545" y="518.56">五十嵐杏珠</text>
<text class="n" x="556.8 580 603.2 626.4" y="518.56">（宮城）</text>
<text class="n" x="474.8 484.83 494.86 504.89 514.91 524.94 534.97 545" y="529.56">（田子ジュニア）</text>
<text class="n" x="474.8 494.86 524.94 545" y="544.65">會澤羽夏</text>
<text class="n" x="556.8 580 603.2 626.4" y="544.65">（栃木）</text>
<text class="n" x="474.8 498.2 521.6 545" y="555.65">（簗瀬）</text>
<text class="n" x="474.8 494.86 524.94 545" y="570.75">井坂悠愛</text>
<text class="n" x="556.8 580 603.2 626.4" y="570.75">（茨城）</text>
<text class="n" x="474.8 488.84 502.88 516.92 530.96 545" y="581.75">（ハルトノ）</text>
<text class="n" x="474.8 502.88 545" y="596.85">田上和</text>
<text class="n" x="556.8 580 603.2 626.4" y="596.85">（茨城）</text>
<text class="n" x="474.8 482.6 490.4 498.2 506 513.8 521.6 529.4 537.2 545" y="607.85">（いばらきジュニア）</text>
<text class="n" x="474.8 494.86 514.91 545" y="622.95">亀ヶ森楓</text>
<text class="n" x="556.8 580 603.2 626.4" y="622.95">（岩手）</text>
<text class="n" x="474.8 484.83 494.86 504.89 514.91 524.94 534.97 545" y="633.95">（矢巾シャトル）</text>
<text class="n" x="474.8 490.74 504.99 528.64 545" y="649.04">久次米香穂</text>
<text class="n" x="556.8 580 603.2 626.4" y="649.04">（群馬）</text>
<text class="n" x="474.8 486.5 498.2 509.9 521.6 533.3 545" y="660.04">（大泉<tspan class="a">JBC</tspan>）</text>
<text class="n" x="474.8 494.86 524.94 545" y="675.14">植竹絢香</text>
<text class="n" x="556.8 580 603.2 626.4" y="675.14">（東京）</text>
<text class="n" x="474.8 483.57 492.35 501.12 509.9 518.67 527.45 536.23 545" y="686.14">（練馬アドバンス）</text>
<text class="n" x="474.8 494.86 524.94 545" y="701.24">森田苺夏</text>
<text class="n" x="556.8 580 603.2 626.4" y="701.24">（埼玉）</text>
<text class="n" x="474.8 486.5 498.2 509.9 521.6 533.3 545" y="712.24">（久喜<tspan class="a">ABC</tspan>）</text>
<text class="n" x="474.8 494.86 524.94 545" y="727.34">石川美那</text>
<text class="n" x="556.8 580 603.2 626.4" y="727.34">（茨城）</text>
<text class="n" x="474.8 488.84 502.88 516.92 530.96 545" y="738.34">（ハルトノ）</text>
<text class="n" x="474.8 494.86 524.94 545" y="753.44">青柳莉世</text>
<text class="n" x="556.8 580 603.2 626.4" y="753.44">（栃木）</text>
<text class="n" x="474.8 484.83 494.86 504.89 514.91 524.94 534.97 545" y="764.44">（真岡ベリーズ）</text>
<text class="n" x="474.8 494.86 524.94 545" y="779.53">世古千紘</text>
<text class="n" x="556.8 580 603.2 626.4" y="779.53">（千葉）</text>
<text class="n" x="474.8 483.57 492.35 501.12 509.9 518.67 527.45 536.23 545" y="790.53">（鎌ヶ谷ジュニア）</text>
<text class="n" x="474.8 490.4 513.8 529.4 545" y="805.63">鈴木あおい</text>
<text class="n" x="556.8 580 603.2 626.4" y="805.63">（栃木）</text>
<text class="n" x="474.8 498.2 521.6 545" y="816.63">（簗瀬）</text>
<text class="n" x="474.8 516.92 545" y="831.73">岡詩織</text>
<text class="n" x="556.8 580 603.2 626.4" y="831.73">（埼玉）</text>
<text class="n" x="474.8 492.35 509.9 527.45 545" y="842.73">（鶴ヶ島）</text>
<text class="n" x="474.8 494.86 524.94 545" y="857.83">八木遥果</text>
<text class="n" x="556.8 580 603.2 626.4" y="857.83">（群馬）</text>
<text class="n" x="474.8 483.57 492.35 501.12 509.9 518.67 527.45 536.23 545" y="868.83">（邑楽町ジュニア）</text>
<text class="n" x="474.8 494.86 524.94 545" y="883.92">太田理心</text>
<text class="n" x="556.8 580 603.2 626.4" y="883.92">（埼玉）</text>
<text class="n" x="474.8 486.5 498.2 509.9 521.6 533.3 545" y="894.92">（蓮田サウス）</text>
<text class="n" x="474.8 490.4 513.8 529.4 545" y="910.02">中泉菜都芽</text>
<text class="n" x="556.8 580 603.2 626.4" y="910.02">（千葉）</text>
<text class="n" x="474.8 484.83 494.86 504.89 514.91 524.94 534.97 545" y="921.02">（市原ジュニア）</text>
<text class="n" x="474.8 494.86 524.94 545" y="936.12">小野陽愛</text>
<text class="n" x="556.8 580 603.2 626.4" y="936.12">（千葉）</text>
<text class="n" x="474.8 484.83 494.86 504.89 514.91 524.94 534.97 545" y="947.12">（高洲ホープス）</text>
<text class="n" x="474.8 494.86 524.94 545" y="962.22">笹川茉子</text>
<text class="n" x="556.8 580 603.2 626.4" y="962.22">（埼玉）</text>
<text class="n" xml:space="preserve" x="474.8 483.57 492.35 501.12 509.9 518.67 527.45 536.23 545" y="973.22">（<tspan class="a">Be Diff</tspan>）</text>
<text class="n" x="474.8 502.88 545" y="988.31">浅野凛</text>
<text class="n" x="556.8 574.2 591.6 609 626.4" y="988.31">（神奈川）</text>
<text class="n" x="474.8 484.83 494.86 504.89 514.91 524.94 534.97 545" y="999.31">（三条クラーク）</text>
<text class="n" x="474.8 494.86 524.94 545" y="1014.41">信太伽蓮</text>
<text class="n" x="556.8 580 603.2 626.4" y="1014.41">（岩手）</text>
<text class="n" x="474.8 486.5 498.2 509.9 521.6 533.3 545" y="1025.41">（湯口<tspan class="a">JBC</tspan>）</text>
<text class="n" x="474.8 494.86 524.94 545" y="1040.51">猪野杏莉</text>
<text class="n" x="556.8 580 603.2 626.4" y="1040.51">（茨城）</text>
<text class="n" x="474.8 486.5 498.2 509.9 521.6 533.3 545" y="1051.51">（あけチャレ）</text>
<text class="n" x="474.8 490.74 504.99 528.64 545" y="1066.61"><tspan class="a">X</tspan>野村彩衣</text>
<text class="n" x="556.8 580 603.2 626.4" y="1066.61">（千葉）</text>
<text class="n" x="474.8 488.84 502.88 516.92 530.96 545" y="1077.61">（野田中根）</text>
<text class="n" x="474.8 494.86 524.94 545" y="1092.7">山下璃咲</text>
<text class="n" x="556.8 580 603.2 626.4" y="1092.7">（茨城）</text>
<text class="n" x="474.8 488.84 502.88 516.92 530.96 545" y="1103.7">（ハルトノ）</text>
<text class="n" x="474.8 494.86 524.94 545" y="1118.8">佐藤雪巴</text>
<text class="n" x="556.8 580 603.2 626.4" y="1118.8">（埼玉）</text>
<text class="n" x="474.8 484.83 494.86 504.89 514.91 524.94 534.97 545" y="1129.8">（川越ジュニア）</text>
<text class="lb" x="193.8" y="93.75">1</text>
<text class="lb" x="193.8" y="119.86">2</text>
<text class="sc" xml:space="preserve" transform="scale(0.72,1)" x="242.44 246.78 251.11 255.44 259.78" y="98.8">15-10</text>
<text class="sc" xml:space="preserve" transform="scale(0.72,1)" x="242.44 246.78 251.11 255.44 259.78" y="105.7">13-15</text>
<text class="sc" xml:space="preserve" transform="scale(0.72,1)" x="242.44 246.78 251.11 255.44 259.78" y="112.6">15- 8</text>
<text class="lb" x="214.9" y="67.65">2</text>
<text class="lb" x="214.9" y="106.8">0</text>
<text class="sc" xml:space="preserve" transform="scale(0.72,1)" x="271.75 276.08 280.42 284.75 289.08" y="75.83">15- 9</text>
<text class="sc" xml:space="preserve" transform="scale(0.72,1)" x="271.75 276.08 280.42 284.75 289.08" y="83.03">15- 5</text>
<text class="lb" x="214.9" y="145.96">X</text>
<text class="lb" x="236.6" y="87.23">2</text>
<text class="lb" x="236.6" y="159.01">0</text>
<text class="sc" xml:space="preserve" transform="scale(0.72,1)" x="301.33 305.67 310 314.33 318.67" y="118.82">15- 7</text>
<text class="sc" xml:space="preserve" transform="scale(0.72,1)" x="301.33 305.67 310 314.33 318.67" y="125.22">15-11</text>
<text class="lb" x="193.8" y="224.26">X</text>
<text class="lb" x="214.9" y="198.16">0</text>
<text class="lb" x="214.9" y="237.32">2</text>
<text class="sc" xml:space="preserve" transform="scale(0.72,1)" x="271.75 276.08 280.42 284.75 289.08" y="206.34">15- 7</text>
<text class="sc" xml:space="preserve" transform="scale(0.72,1)" x="271.75 276.08 280.42 284.75 289.08" y="213.54">15- 0</text>
<text class="lb" x="193.8" y="276.47">0</text>
<text class="lb" x="193.8" y="302.57">2</text>
<text class="sc" xml:space="preserve" transform="scale(0.72,1)" x="242.44 246.78 251.11 255.44 259.78" y="284.97">15- 2</text>
<text class="sc" xml:space="preserve" transform="scale(0.72,1)" x="242.44 246.78 251.11 255.44 259.78" y="291.87">15- 4</text>
<text class="lb" x="214.9" y="289.52">0</text>
<text class="lb" x="214.9" y="328.67">2</text>
<text class="sc" xml:space="preserve" transform="scale(0.72,1)" x="271.75 276.08 280.42 284.75 289.08" y="311.1">15-11</text>
<text class="sc" xml:space="preserve" transform="scale(0.72,1)" x="271.75 276.08 280.42 284.75 289.08" y="318.3">15- 5</text>
<text class="lb" x="236.6" y="217.74">2</text>
<text class="lb" x="236.6" y="309.1">0</text>
<text class="sc" xml:space="preserve" transform="scale(0.72,1)" x="301.33 305.67 310 314.33 318.67" y="259.12">15- 7</text>
<text class="sc" xml:space="preserve" transform="scale(0.72,1)" x="301.33 305.67 310 314.33 318.67" y="265.52">15-14</text>
<text class="lb" x="257.9" y="123.12">2</text>
<text class="lb" x="257.9" y="263.42">0</text>
<text class="sc" xml:space="preserve" transform="scale(0.72,1)" x="336.08 340.17 344.27 348.37" y="189.22">15-6</text>
<text class="sc" xml:space="preserve" transform="scale(0.72,1)" x="336.08 340.17 344.27 348.37" y="195.12">15-7</text>
<text class="lb" x="193.8" y="380.88">2</text>
<text class="lb" x="193.8" y="406.98">0</text>
<text class="sc" xml:space="preserve" transform="scale(0.72,1)" x="242.44 246.78 251.11 255.44 259.78" y="389.38">15-12</text>
<text class="sc" xml:space="preserve" transform="scale(0.72,1)" x="242.44 246.78 251.11 255.44 259.78" y="396.28">15-13</text>
<text class="lb" x="214.9" y="354.78">0</text>
<text class="lb" x="214.9" y="393.93">2</text>
<text class="sc" xml:space="preserve" transform="scale(0.72,1)" x="271.75 276.08 280.42 284.75 289.08" y="362.95">15-13</text>
<text class="sc" xml:space="preserve" transform="scale(0.72,1)" x="271.75 276.08 280.42 284.75 289.08" y="370.15">15-11</text>
<text class="lb" x="214.9" y="433.08">0</text>
<text class="lb" x="214.9" y="459.19">2</text>
<text class="sc" xml:space="preserve" transform="scale(0.72,1)" x="271.75 276.08 280.42 284.75 289.08" y="441.44">15- 9</text>
<text class="sc" xml:space="preserve" transform="scale(0.72,1)" x="271.75 276.08 280.42 284.75 289.08" y="448.64">15- 8</text>
<text class="lb" x="236.6" y="374.35">1</text>
<text class="lb" x="236.6" y="446.14">2</text>
<text class="sc" xml:space="preserve" transform="scale(0.72,1)" x="301.33 305.67 310 314.33 318.67" y="402.75">15-12</text>
<text class="sc" xml:space="preserve" transform="scale(0.72,1)" x="301.33 305.67 310 314.33 318.67" y="409.15">14-15</text>
<text class="sc" xml:space="preserve" transform="scale(0.72,1)" x="301.33 305.67 310 314.33 318.67" y="415.55">15-10</text>
<text class="lb" x="214.9" y="485.29">2</text>
<text class="lb" x="214.9" y="511.39">1</text>
<text class="sc" xml:space="preserve" transform="scale(0.72,1)" x="271.75 276.08 280.42 284.75 289.08" y="490.04">14-15</text>
<text class="sc" xml:space="preserve" transform="scale(0.72,1)" x="271.75 276.08 280.42 284.75 289.08" y="497.24">15- 8</text>
<text class="sc" xml:space="preserve" transform="scale(0.72,1)" x="271.75 276.08 280.42 284.75 289.08" y="504.44">15-13</text>
<text class="lb" x="193.8" y="537.5">0</text>
<text class="lb" x="193.8" y="563.6">2</text>
<text class="sc" xml:space="preserve" transform="scale(0.72,1)" x="242.44 246.78 251.11 255.44 259.78" y="546">15-12</text>
<text class="sc" xml:space="preserve" transform="scale(0.72,1)" x="242.44 246.78 251.11 255.44 259.78" y="552.9">15- 6</text>
<text class="lb" x="214.9" y="550.55">1</text>
<text class="lb" x="214.9" y="589.7">2</text>
<text class="sc" xml:space="preserve" transform="scale(0.72,1)" x="271.75 276.08 280.42 284.75 289.08" y="568.52">15-11</text>
<text class="sc" xml:space="preserve" transform="scale(0.72,1)" x="271.75 276.08 280.42 284.75 289.08" y="575.72">12-15</text>
<text class="sc" xml:space="preserve" transform="scale(0.72,1)" x="271.75 276.08 280.42 284.75 289.08" y="582.92">15-12</text>
<text class="lb" x="236.6" y="498.34">1</text>
<text class="lb" x="236.6" y="570.12">2</text>
<text class="sc" xml:space="preserve" transform="scale(0.72,1)" x="301.33 305.67 310 314.33 318.67" y="526.73">12-15</text>
<text class="sc" xml:space="preserve" transform="scale(0.72,1)" x="301.33 305.67 310 314.33 318.67" y="533.13">15-10</text>
<text class="sc" xml:space="preserve" transform="scale(0.72,1)" x="301.33 305.67 310 314.33 318.67" y="539.53">15- 8</text>
<text class="lb" x="257.9" y="410.25">0</text>
<text class="lb" x="257.9" y="534.23">2</text>
<text class="sc" xml:space="preserve" transform="scale(0.72,1)" x="336.08 340.17 344.27 348.37" y="468.19">15-7</text>
<text class="sc" xml:space="preserve" transform="scale(0.72,1)" x="336.08 340.17 344.27 348.37" y="474.09">15-6</text>
<text class="lb" x="278.8" y="193.27">2</text>
<text class="lb" x="278.8" y="472.24">0</text>
<text class="sc sb" xml:space="preserve" transform="scale(0.72,1)" x="359.69 364.2 368.72 373.23 377.74" y="328.4">21-13</text>
<text class="sc sb" xml:space="preserve" transform="scale(0.72,1)" x="359.69 364.2 368.72 373.23 377.74" y="335.4">21-16</text>
<text class="lb" x="193.8" y="668.01">X</text>
<text class="lb" x="214.9" y="615.8">2</text>
<text class="lb" x="214.9" y="654.96">1</text>
<text class="sc" xml:space="preserve" transform="scale(0.72,1)" x="271.75 276.08 280.42 284.75 289.08" y="620.38">14-15</text>
<text class="sc" xml:space="preserve" transform="scale(0.72,1)" x="271.75 276.08 280.42 284.75 289.08" y="627.58">15- 6</text>
<text class="sc" xml:space="preserve" transform="scale(0.72,1)" x="271.75 276.08 280.42 284.75 289.08" y="634.78">15- 7</text>
<text class="lb" x="214.9" y="694.11">0</text>
<text class="lb" x="214.9" y="720.21">2</text>
<text class="sc" xml:space="preserve" transform="scale(0.72,1)" x="271.75 276.08 280.42 284.75 289.08" y="702.46">15- 9</text>
<text class="sc" xml:space="preserve" transform="scale(0.72,1)" x="271.75 276.08 280.42 284.75 289.08" y="709.66">15- 7</text>
<text class="lb" x="236.6" y="635.38">2</text>
<text class="lb" x="236.6" y="707.16">0</text>
<text class="sc" xml:space="preserve" transform="scale(0.72,1)" x="301.33 305.67 310 314.33 318.67" y="666.97">15- 9</text>
<text class="sc" xml:space="preserve" transform="scale(0.72,1)" x="301.33 305.67 310 314.33 318.67" y="673.37">15- 6</text>
<text class="lb" x="214.9" y="746.32">0</text>
<text class="lb" x="214.9" y="772.42">2</text>
<text class="sc" xml:space="preserve" transform="scale(0.72,1)" x="271.75 276.08 280.42 284.75 289.08" y="754.67">15- 6</text>
<text class="sc" xml:space="preserve" transform="scale(0.72,1)" x="271.75 276.08 280.42 284.75 289.08" y="761.87">15- 5</text>
<text class="lb" x="193.8" y="798.52">1</text>
<text class="lb" x="193.8" y="824.62">2</text>
<text class="sc" xml:space="preserve" transform="scale(0.72,1)" x="242.44 246.78 251.11 255.44 259.78" y="803.57">15-14</text>
<text class="sc" xml:space="preserve" transform="scale(0.72,1)" x="242.44 246.78 251.11 255.44 259.78" y="810.47">13-15</text>
<text class="sc" xml:space="preserve" transform="scale(0.72,1)" x="242.44 246.78 251.11 255.44 259.78" y="817.37">15-14</text>
<text class="lb" x="214.9" y="811.57">0</text>
<text class="lb" x="214.9" y="850.73">2</text>
<text class="sc" xml:space="preserve" transform="scale(0.72,1)" x="271.75 276.08 280.42 284.75 289.08" y="833.15">15- 9</text>
<text class="sc" xml:space="preserve" transform="scale(0.72,1)" x="271.75 276.08 280.42 284.75 289.08" y="840.35">15- 4</text>
<text class="lb" x="236.6" y="759.37">0</text>
<text class="lb" x="236.6" y="831.15">2</text>
<text class="sc" xml:space="preserve" transform="scale(0.72,1)" x="301.33 305.67 310 314.33 318.67" y="790.96">15- 9</text>
<text class="sc" xml:space="preserve" transform="scale(0.72,1)" x="301.33 305.67 310 314.33 318.67" y="797.36">15-10</text>
<text class="lb" x="257.9" y="671.27">2</text>
<text class="lb" x="257.9" y="795.26">0</text>
<text class="sc" xml:space="preserve" transform="scale(0.72,1)" x="336.08 340.17 344.27 348.37" y="729.21">15-5</text>
<text class="sc" xml:space="preserve" transform="scale(0.72,1)" x="336.08 340.17 344.27 348.37" y="735.11">15-8</text>
<text class="lb" x="193.8" y="902.93">2</text>
<text class="lb" x="193.8" y="929.03">0</text>
<text class="sc" xml:space="preserve" transform="scale(0.72,1)" x="242.44 246.78 251.11 255.44 259.78" y="911.43">15- 8</text>
<text class="sc" xml:space="preserve" transform="scale(0.72,1)" x="242.44 246.78 251.11 255.44 259.78" y="918.33">15- 5</text>
<text class="lb" x="214.9" y="876.83">0</text>
<text class="lb" x="214.9" y="915.98">2</text>
<text class="sc" xml:space="preserve" transform="scale(0.72,1)" x="271.75 276.08 280.42 284.75 289.08" y="885">15-13</text>
<text class="sc" xml:space="preserve" transform="scale(0.72,1)" x="271.75 276.08 280.42 284.75 289.08" y="892.2">15- 9</text>
<text class="lb" x="214.9" y="955.14">0</text>
<text class="lb" x="214.9" y="981.24">2</text>
<text class="sc" xml:space="preserve" transform="scale(0.72,1)" x="271.75 276.08 280.42 284.75 289.08" y="963.49">15-11</text>
<text class="sc" xml:space="preserve" transform="scale(0.72,1)" x="271.75 276.08 280.42 284.75 289.08" y="970.69">15- 4</text>
<text class="lb" x="236.6" y="896.4">1</text>
<text class="lb" x="236.6" y="968.19">2</text>
<text class="sc" xml:space="preserve" transform="scale(0.72,1)" x="301.33 305.67 310 314.33 318.67" y="924.8"> 9-15</text>
<text class="sc" xml:space="preserve" transform="scale(0.72,1)" x="301.33 305.67 310 314.33 318.67" y="931.2">15-10</text>
<text class="sc" xml:space="preserve" transform="scale(0.72,1)" x="301.33 305.67 310 314.33 318.67" y="937.6">15- 7</text>
<text class="lb" x="214.9" y="1007.34">2</text>
<text class="lb" x="214.9" y="1033.44">1</text>
<text class="sc" xml:space="preserve" transform="scale(0.72,1)" x="271.75 276.08 280.42 284.75 289.08" y="1012.09"> 8-15</text>
<text class="sc" xml:space="preserve" transform="scale(0.72,1)" x="271.75 276.08 280.42 284.75 289.08" y="1019.29">15-11</text>
<text class="sc" xml:space="preserve" transform="scale(0.72,1)" x="271.75 276.08 280.42 284.75 289.08" y="1026.49">15- 9</text>
<text class="lb" x="193.8" y="1059.55">0</text>
<text class="lb" x="193.8" y="1085.65">2</text>
<text class="sc" xml:space="preserve" transform="scale(0.72,1)" x="242.44 246.78 251.11 255.44 259.78" y="1068.05">15-11</text>
<text class="sc" xml:space="preserve" transform="scale(0.72,1)" x="242.44 246.78 251.11 255.44 259.78" y="1074.95">15- 6</text>
<text class="lb" x="214.9" y="1072.6">0</text>
<text class="lb" x="214.9" y="1111.75">2</text>
<text class="sc" xml:space="preserve" transform="scale(0.72,1)" x="271.75 276.08 280.42 284.75 289.08" y="1094.17">15- 9</text>
<text class="sc" xml:space="preserve" transform="scale(0.72,1)" x="271.75 276.08 280.42 284.75 289.08" y="1101.37">15- 7</text>
<text class="lb" x="236.6" y="1020.39">0</text>
<text class="lb" x="236.6" y="1092.17">2</text>
<text class="sc" xml:space="preserve" transform="scale(0.72,1)" x="301.33 305.67 310 314.33 318.67" y="1051.98">15- 3</text>
<text class="sc" xml:space="preserve" transform="scale(0.72,1)" x="301.33 305.67 310 314.33 318.67" y="1058.38">15- 3</text>
<text class="lb" x="257.9" y="932.3">0</text>
<text class="lb" x="257.9" y="1056.28">2</text>
<text class="sc" xml:space="preserve" transform="scale(0.72,1)" x="336.08 340.17 344.27 348.37" y="990.24">15-9</text>
<text class="sc" xml:space="preserve" transform="scale(0.72,1)" x="336.08 340.17 344.27 348.37" y="996.14">15-7</text>
<text class="lb" x="278.8" y="733.26">2</text>
<text class="lb" x="278.8" y="994.29">0</text>
<text class="sc sb" xml:space="preserve" transform="scale(0.72,1)" x="359.69 364.2 368.72 373.23 377.74" y="859.43">21-17</text>
<text class="sc sb" xml:space="preserve" transform="scale(0.72,1)" x="359.69 364.2 368.72 373.23 377.74" y="866.43">21- 8</text>
<text class="lb" x="299.8" y="332.75">2</text>
<text class="lb" x="299.8" y="863.78">0</text>
<text class="sc sb" xml:space="preserve" transform="scale(0.72,1)" x="388.85 393.37 397.88 402.4 406.91" y="594.16">21-13</text>
<text class="sc sb" xml:space="preserve" transform="scale(0.72,1)" x="388.85 393.37 397.88 402.4 406.91" y="600.66">21-15</text>
<text class="lb e" x="444.5" y="80.95">0</text>
<text class="lb e" x="444.5" y="107.05">2</text>
<text class="sc" xml:space="preserve" transform="scale(0.72,1)" x="627.86 632.19 636.53 640.86 645.19" y="89.45">15- 8</text>
<text class="sc" xml:space="preserve" transform="scale(0.72,1)" x="627.86 632.19 636.53 640.86 645.19" y="96.35">15- 9</text>
<text class="lb e" x="423.3" y="54.85">2</text>
<text class="lb e" x="423.3" y="94">0</text>
<text class="sc" xml:space="preserve" transform="scale(0.72,1)" x="598.28 602.61 606.94 611.28 615.61" y="63.02">15- 4</text>
<text class="sc" xml:space="preserve" transform="scale(0.72,1)" x="598.28 602.61 606.94 611.28 615.61" y="70.22">15- 1</text>
<text class="lb e" x="423.3" y="133.14">0</text>
<text class="lb e" x="423.3" y="159.24">2</text>
<text class="sc" xml:space="preserve" transform="scale(0.72,1)" x="598.28 602.61 606.94 611.28 615.61" y="141.49">15- 4</text>
<text class="sc" xml:space="preserve" transform="scale(0.72,1)" x="598.28 602.61 606.94 611.28 615.61" y="148.69">15- 3</text>
<text class="lb e" x="402.4" y="74.42">2</text>
<text class="lb e" x="402.4" y="146.19">0</text>
<text class="sc" xml:space="preserve" transform="scale(0.72,1)" x="569.25 573.58 577.92 582.25 586.58" y="106.01">15- 3</text>
<text class="sc" xml:space="preserve" transform="scale(0.72,1)" x="569.25 573.58 577.92 582.25 586.58" y="112.41">15- 7</text>
<text class="lb e" x="444.5" y="211.44">2</text>
<text class="lb e" x="444.5" y="237.53">0</text>
<text class="sc" xml:space="preserve" transform="scale(0.72,1)" x="627.86 632.19 636.53 640.86 645.19" y="219.93">15- 8</text>
<text class="sc" xml:space="preserve" transform="scale(0.72,1)" x="627.86 632.19 636.53 640.86 645.19" y="226.83">15-12</text>
<text class="lb e" x="423.3" y="185.34">2</text>
<text class="lb e" x="423.3" y="224.48">1</text>
<text class="sc" xml:space="preserve" transform="scale(0.72,1)" x="598.28 602.61 606.94 611.28 615.61" y="189.91"> 9-15</text>
<text class="sc" xml:space="preserve" transform="scale(0.72,1)" x="598.28 602.61 606.94 611.28 615.61" y="197.11">15- 9</text>
<text class="sc" xml:space="preserve" transform="scale(0.72,1)" x="598.28 602.61 606.94 611.28 615.61" y="204.31">15-14</text>
<text class="lb e" x="444.5" y="263.63">2</text>
<text class="lb e" x="444.5" y="289.73">1</text>
<text class="sc" xml:space="preserve" transform="scale(0.72,1)" x="627.86 632.19 636.53 640.86 645.19" y="268.68">10-15</text>
<text class="sc" xml:space="preserve" transform="scale(0.72,1)" x="627.86 632.19 636.53 640.86 645.19" y="275.58">15-12</text>
<text class="sc" xml:space="preserve" transform="scale(0.72,1)" x="627.86 632.19 636.53 640.86 645.19" y="282.48">15-12</text>
<text class="lb e" x="423.3" y="276.68">0</text>
<text class="lb e" x="423.3" y="315.83">2</text>
<text class="sc" xml:space="preserve" transform="scale(0.72,1)" x="598.28 602.61 606.94 611.28 615.61" y="298.25">15- 8</text>
<text class="sc" xml:space="preserve" transform="scale(0.72,1)" x="598.28 602.61 606.94 611.28 615.61" y="305.45">15-10</text>
<text class="lb e" x="402.4" y="204.91">0</text>
<text class="lb e" x="402.4" y="296.25">2</text>
<text class="sc" xml:space="preserve" transform="scale(0.72,1)" x="569.25 573.58 577.92 582.25 586.58" y="246.28">15- 6</text>
<text class="sc" xml:space="preserve" transform="scale(0.72,1)" x="569.25 573.58 577.92 582.25 586.58" y="252.68">15-12</text>
<text class="lb e" x="381.8" y="110.31">2</text>
<text class="lb e" x="381.8" y="250.58">0</text>
<text class="sc" xml:space="preserve" transform="scale(0.72,1)" x="539.97 544.06 548.16 552.26 556.35" y="176.39"> 15-7</text>
<text class="sc" xml:space="preserve" transform="scale(0.72,1)" x="539.97 544.06 548.16 552.26 556.35" y="182.29"> 15-4</text>
<text class="lb e" x="444.5" y="394.12">X</text>
<text class="lb e" x="423.3" y="341.92">2</text>
<text class="lb e" x="423.3" y="381.07">1</text>
<text class="sc" xml:space="preserve" transform="scale(0.72,1)" x="598.28 602.61 606.94 611.28 615.61" y="346.5">15-11</text>
<text class="sc" xml:space="preserve" transform="scale(0.72,1)" x="598.28 602.61 606.94 611.28 615.61" y="353.7"> 7-15</text>
<text class="sc" xml:space="preserve" transform="scale(0.72,1)" x="598.28 602.61 606.94 611.28 615.61" y="360.9">15-12</text>
<text class="lb e" x="423.3" y="420.22">0</text>
<text class="lb e" x="423.3" y="446.31">2</text>
<text class="sc" xml:space="preserve" transform="scale(0.72,1)" x="598.28 602.61 606.94 611.28 615.61" y="428.57">15- 6</text>
<text class="sc" xml:space="preserve" transform="scale(0.72,1)" x="598.28 602.61 606.94 611.28 615.61" y="435.77">15-12</text>
<text class="lb e" x="402.4" y="361.5">0</text>
<text class="lb e" x="402.4" y="433.27">2</text>
<text class="sc" xml:space="preserve" transform="scale(0.72,1)" x="569.25 573.58 577.92 582.25 586.58" y="393.08">15- 9</text>
<text class="sc" xml:space="preserve" transform="scale(0.72,1)" x="569.25 573.58 577.92 582.25 586.58" y="399.48">15-11</text>
<text class="lb e" x="423.3" y="472.41">1</text>
<text class="lb e" x="423.3" y="498.51">2</text>
<text class="sc" xml:space="preserve" transform="scale(0.72,1)" x="598.28 602.61 606.94 611.28 615.61" y="477.16">15- 9</text>
<text class="sc" xml:space="preserve" transform="scale(0.72,1)" x="598.28 602.61 606.94 611.28 615.61" y="484.36"> 6-15</text>
<text class="sc" xml:space="preserve" transform="scale(0.72,1)" x="598.28 602.61 606.94 611.28 615.61" y="491.56">15-10</text>
<text class="lb e" x="444.5" y="524.61">2</text>
<text class="lb e" x="444.5" y="550.7">1</text>
<text class="sc" xml:space="preserve" transform="scale(0.72,1)" x="627.86 632.19 636.53 640.86 645.19" y="529.66">15- 8</text>
<text class="sc" xml:space="preserve" transform="scale(0.72,1)" x="627.86 632.19 636.53 640.86 645.19" y="536.56">13-15</text>
<text class="sc" xml:space="preserve" transform="scale(0.72,1)" x="627.86 632.19 636.53 640.86 645.19" y="543.46">15-11</text>
<text class="lb e" x="423.3" y="537.66">0</text>
<text class="lb e" x="423.3" y="576.8">2</text>
<text class="sc" xml:space="preserve" transform="scale(0.72,1)" x="598.28 602.61 606.94 611.28 615.61" y="559.23">15- 7</text>
<text class="sc" xml:space="preserve" transform="scale(0.72,1)" x="598.28 602.61 606.94 611.28 615.61" y="566.43">15- 6</text>
<text class="lb e" x="402.4" y="485.46">0</text>
<text class="lb e" x="402.4" y="557.23">2</text>
<text class="sc" xml:space="preserve" transform="scale(0.72,1)" x="569.25 573.58 577.92 582.25 586.58" y="517.04">15- 9</text>
<text class="sc" xml:space="preserve" transform="scale(0.72,1)" x="569.25 573.58 577.92 582.25 586.58" y="523.44">15- 7</text>
<text class="lb e" x="381.8" y="397.38">1</text>
<text class="lb e" x="381.8" y="521.34">2</text>
<text class="sc" xml:space="preserve" transform="scale(0.72,1)" x="539.97 544.06 548.16 552.26 556.35" y="452.36">14-15</text>
<text class="sc" xml:space="preserve" transform="scale(0.72,1)" x="539.97 544.06 548.16 552.26 556.35" y="458.26"> 15-7</text>
<text class="sc" xml:space="preserve" transform="scale(0.72,1)" x="539.97 544.06 548.16 552.26 556.35" y="464.16"> 15-8</text>
<text class="lb e" x="360.2" y="180.44">2</text>
<text class="lb e" x="360.2" y="459.36">0</text>
<text class="sc sb" xml:space="preserve" transform="scale(0.72,1)" x="510.73 515.24 519.76 524.27 528.78" y="315.55">21-13</text>
<text class="sc sb" xml:space="preserve" transform="scale(0.72,1)" x="510.73 515.24 519.76 524.27 528.78" y="322.55">21-18</text>
<text class="lb e" x="444.5" y="629">1</text>
<text class="lb e" x="444.5" y="655.09">2</text>
<text class="sc" xml:space="preserve" transform="scale(0.72,1)" x="627.86 632.19 636.53 640.86 645.19" y="634.05">15-14</text>
<text class="sc" xml:space="preserve" transform="scale(0.72,1)" x="627.86 632.19 636.53 640.86 645.19" y="640.95">14-15</text>
<text class="sc" xml:space="preserve" transform="scale(0.72,1)" x="627.86 632.19 636.53 640.86 645.19" y="647.85">15- 9</text>
<text class="lb e" x="423.3" y="602.9">2</text>
<text class="lb e" x="423.3" y="642.05">0</text>
<text class="sc" xml:space="preserve" transform="scale(0.72,1)" x="598.28 602.61 606.94 611.28 615.61" y="611.07">15- 4</text>
<text class="sc" xml:space="preserve" transform="scale(0.72,1)" x="598.28 602.61 606.94 611.28 615.61" y="618.27">15- 3</text>
<text class="lb e" x="423.3" y="681.19">2</text>
<text class="lb e" x="423.3" y="707.29">1</text>
<text class="sc" xml:space="preserve" transform="scale(0.72,1)" x="598.28 602.61 606.94 611.28 615.61" y="685.94"> 6-15</text>
<text class="sc" xml:space="preserve" transform="scale(0.72,1)" x="598.28 602.61 606.94 611.28 615.61" y="693.14">15- 7</text>
<text class="sc" xml:space="preserve" transform="scale(0.72,1)" x="598.28 602.61 606.94 611.28 615.61" y="700.34">15- 5</text>
<text class="lb e" x="402.4" y="622.47">0</text>
<text class="lb e" x="402.4" y="694.24">2</text>
<text class="sc" xml:space="preserve" transform="scale(0.72,1)" x="569.25 573.58 577.92 582.25 586.58" y="654.06">15-11</text>
<text class="sc" xml:space="preserve" transform="scale(0.72,1)" x="569.25 573.58 577.92 582.25 586.58" y="660.46">15-10</text>
<text class="lb e" x="423.3" y="733.39">2</text>
<text class="lb e" x="423.3" y="759.49">0</text>
<text class="sc" xml:space="preserve" transform="scale(0.72,1)" x="598.28 602.61 606.94 611.28 615.61" y="741.74">15-14</text>
<text class="sc" xml:space="preserve" transform="scale(0.72,1)" x="598.28 602.61 606.94 611.28 615.61" y="748.94">15- 4</text>
<text class="lb e" x="444.5" y="785.58">2</text>
<text class="lb e" x="444.5" y="811.68">0</text>
<text class="sc" xml:space="preserve" transform="scale(0.72,1)" x="627.86 632.19 636.53 640.86 645.19" y="794.08">15- 8</text>
<text class="sc" xml:space="preserve" transform="scale(0.72,1)" x="627.86 632.19 636.53 640.86 645.19" y="800.98">15-12</text>
<text class="lb e" x="423.3" y="798.63">0</text>
<text class="lb e" x="423.3" y="837.78">2</text>
<text class="sc" xml:space="preserve" transform="scale(0.72,1)" x="598.28 602.61 606.94 611.28 615.61" y="820.2">15-11</text>
<text class="sc" xml:space="preserve" transform="scale(0.72,1)" x="598.28 602.61 606.94 611.28 615.61" y="827.4">15- 5</text>
<text class="lb e" x="402.4" y="746.44">0</text>
<text class="lb e" x="402.4" y="818.2">2</text>
<text class="sc" xml:space="preserve" transform="scale(0.72,1)" x="569.25 573.58 577.92 582.25 586.58" y="778.02">15- 3</text>
<text class="sc" xml:space="preserve" transform="scale(0.72,1)" x="569.25 573.58 577.92 582.25 586.58" y="784.42">15-10</text>
<text class="lb e" x="381.8" y="658.36">0</text>
<text class="lb e" x="381.8" y="782.32">2</text>
<text class="sc" xml:space="preserve" transform="scale(0.72,1)" x="539.97 544.06 548.16 552.26 556.35" y="716.29">15-12</text>
<text class="sc" xml:space="preserve" transform="scale(0.72,1)" x="539.97 544.06 548.16 552.26 556.35" y="722.19">15-10</text>
<text class="lb e" x="444.5" y="889.97">0</text>
<text class="lb e" x="444.5" y="916.07">2</text>
<text class="sc" xml:space="preserve" transform="scale(0.72,1)" x="627.86 632.19 636.53 640.86 645.19" y="898.47">15- 9</text>
<text class="sc" xml:space="preserve" transform="scale(0.72,1)" x="627.86 632.19 636.53 640.86 645.19" y="905.37">15-13</text>
<text class="lb e" x="423.3" y="863.88">0</text>
<text class="lb e" x="423.3" y="903.02">2</text>
<text class="sc" xml:space="preserve" transform="scale(0.72,1)" x="598.28 602.61 606.94 611.28 615.61" y="872.05">15-10</text>
<text class="sc" xml:space="preserve" transform="scale(0.72,1)" x="598.28 602.61 606.94 611.28 615.61" y="879.25">15- 6</text>
<text class="lb e" x="444.5" y="942.17">0</text>
<text class="lb e" x="444.5" y="968.27">2</text>
<text class="sc" xml:space="preserve" transform="scale(0.72,1)" x="627.86 632.19 636.53 640.86 645.19" y="950.67">15-14</text>
<text class="sc" xml:space="preserve" transform="scale(0.72,1)" x="627.86 632.19 636.53 640.86 645.19" y="957.57">15-12</text>
<text class="lb e" x="423.3" y="955.22">2</text>
<text class="lb e" x="423.3" y="994.36">0</text>
<text class="sc" xml:space="preserve" transform="scale(0.72,1)" x="598.28 602.61 606.94 611.28 615.61" y="976.79">15- 8</text>
<text class="sc" xml:space="preserve" transform="scale(0.72,1)" x="598.28 602.61 606.94 611.28 615.61" y="983.99">15- 8</text>
<text class="lb e" x="402.4" y="883.45">0</text>
<text class="lb e" x="402.4" y="974.79">2</text>
<text class="sc" xml:space="preserve" transform="scale(0.72,1)" x="569.25 573.58 577.92 582.25 586.58" y="924.82">15- 5</text>
<text class="sc" xml:space="preserve" transform="scale(0.72,1)" x="569.25 573.58 577.92 582.25 586.58" y="931.22">15-11</text>
<text class="lb e" x="423.3" y="1020.46">0</text>
<text class="lb e" x="423.3" y="1046.56">2</text>
<text class="sc" xml:space="preserve" transform="scale(0.72,1)" x="598.28 602.61 606.94 611.28 615.61" y="1028.81">15- 7</text>
<text class="sc" xml:space="preserve" transform="scale(0.72,1)" x="598.28 602.61 606.94 611.28 615.61" y="1036.01">15- 5</text>
<text class="lb e" x="444.5" y="1072.66">X</text>
<text class="lb e" x="423.3" y="1085.71">0</text>
<text class="lb e" x="423.3" y="1124.85">2</text>
<text class="sc" xml:space="preserve" transform="scale(0.72,1)" x="598.28 602.61 606.94 611.28 615.61" y="1107.28">15- 5</text>
<text class="sc" xml:space="preserve" transform="scale(0.72,1)" x="598.28 602.61 606.94 611.28 615.61" y="1114.48">15- 5</text>
<text class="lb e" x="402.4" y="1033.51">0</text>
<text class="lb e" x="402.4" y="1105.28">2</text>
<text class="sc" xml:space="preserve" transform="scale(0.72,1)" x="569.25 573.58 577.92 582.25 586.58" y="1065.09">15- 3</text>
<text class="sc" xml:space="preserve" transform="scale(0.72,1)" x="569.25 573.58 577.92 582.25 586.58" y="1071.49">15- 6</text>
<text class="lb e" x="381.8" y="929.12">0</text>
<text class="lb e" x="381.8" y="1069.39">2</text>
<text class="sc" xml:space="preserve" transform="scale(0.72,1)" x="539.97 544.06 548.16 552.26 556.35" y="995.21">15-11</text>
<text class="sc" xml:space="preserve" transform="scale(0.72,1)" x="539.97 544.06 548.16 552.26 556.35" y="1001.11"> 15-6</text>
<text class="lb e" x="360.2" y="720.34">0</text>
<text class="lb e" x="360.2" y="999.26">2</text>
<text class="sc sb" xml:space="preserve" transform="scale(0.72,1)" x="510.73 515.24 519.76 524.27 528.78" y="855.45">21- 6</text>
<text class="sc sb" xml:space="preserve" transform="scale(0.72,1)" x="510.73 515.24 519.76 524.27 528.78" y="862.45">21-10</text>
<text class="lb e" x="339.3" y="319.9">1</text>
<text class="lb e" x="339.3" y="859.8">2</text>
<text class="sc sb" xml:space="preserve" transform="scale(0.72,1)" x="480.45 484.97 489.48 493.99 498.51" y="586.41">15-21</text>
<text class="sc sb" xml:space="preserve" transform="scale(0.72,1)" x="480.45 484.97 489.48 493.99 498.51" y="592.91">21-16</text>
<text class="sc sb" xml:space="preserve" transform="scale(0.72,1)" x="480.45 484.97 489.48 493.99 498.51" y="599.41">21-13</text>
<text class="lb e" x="315.7" y="592.21">2</text>
<text class="lb" x="322.7" y="592.21">0</text>
<text class="sc sb" xml:space="preserve" transform="scale(0.72,1)" x="432.78 437.29 441.81 446.32 450.83" y="603.86">21-10</text>
<text class="sc sb" xml:space="preserve" transform="scale(0.72,1)" x="432.78 437.29 441.81 446.32 450.83" y="610.36">21-16</text>
</g>
</svg>
</body></html>
